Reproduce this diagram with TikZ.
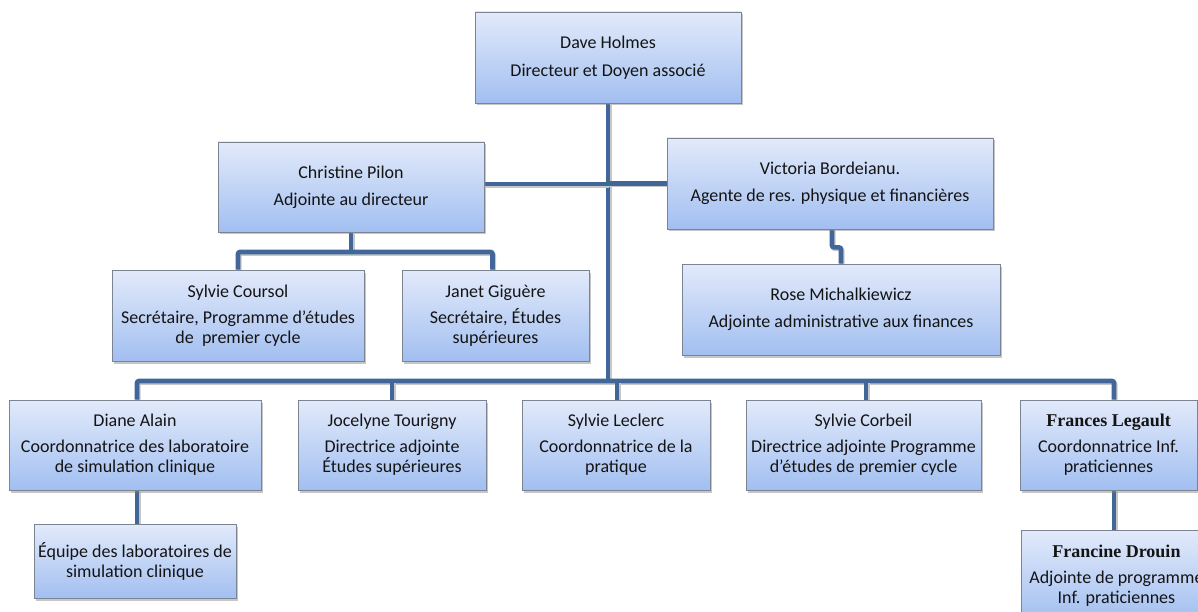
\documentclass[tikz,border=0pt]{standalone}
\usepackage{fontspec}
\setmainfont{Carlito}
\newfontfamily\namefont{Liberation Serif}
\usetikzlibrary{shadows,backgrounds}
\definecolor{linkblue}{RGB}{65,103,154}
\definecolor{boxtop}{RGB}{226,234,250}
\definecolor{boxbottom}{RGB}{162,191,241}
\definecolor{boxline}{RGB}{125,132,145}
\definecolor{inktext}{RGB}{20,20,20}
\begin{document}
\begin{tikzpicture}[x=1pt,y=-1pt,font=\fontsize{18}{20}\selectfont,text=inktext]
      \tikzstyle{box}=[draw=boxline,line width=0.8pt,top color=boxtop,bottom color=boxbottom,
        align=center,inner sep=2pt,drop shadow={shadow xshift=2pt,shadow yshift=-2.5pt,opacity=0.45}]
      \tikzstyle{link}=[linkblue,line width=4.6pt,rounded corners=2pt,
        preaction={draw=black!22,line width=4.6pt,transform canvas={shift={(1.2pt,-1.5pt)}}}]
      \useasboundingbox (0,0) rectangle (1198,612);

      \coordinate (bar) at (608,381);
      \coordinate (pbar) at (351,252);

      \node(holmes)[box,minimum width=266,minimum height=91] at (608,57.5)
          {Dave Holmes\\[8pt]Directeur et Doyen associé};
      \node(pilon)[box,minimum width=266,minimum height=90] at (351,187)
          {Christine Pilon\\[7pt]Adjointe au directeur};
      \node(bordeianu)[box,minimum width=326,minimum height=91] at (830,183.5)
          {Victoria Bordeianu.\\[7pt]Agente de res. physique et financières};
      \node(coursol)[box,minimum width=252,minimum height=91] at (238,315.5)
          {Sylvie Coursol\\[6pt]Secrétaire, Programme d'études\\de\ \ premier cycle};
      \node(giguere)[box,minimum width=187,minimum height=91] at (495.5,315.5)
          {Janet Giguère\\[6pt]Secrétaire, Études\\supérieures};
      \node(michalk)[box,minimum width=318,minimum height=91] at (841,309.5)
          {Rose Michalkiewicz\\[7pt]Adjointe administrative aux finances};
      \node(alain)[box,minimum width=252,minimum height=90] at (135,445)
          {Diane Alain\\[6pt]Coordonnatrice des laboratoire\\de simulation clinique};
      \node(tourigny)[box,minimum width=188,minimum height=90] at (392,445)
          {Jocelyne Tourigny\\[6pt]Directrice adjointe\\Études supérieures};
      \node(leclerc)[box,minimum width=188,minimum height=90] at (616,445)
          {Sylvie Leclerc\\[6pt]Coordonnatrice de la\\pratique};
      \node(corbeil)[box,minimum width=235,minimum height=90] at (863.5,445)
          {Sylvie Corbeil\\[6pt]Directrice adjointe Programme\\d'études de premier cycle};
      \node(legault)[box,minimum width=177,minimum height=90] at (1108.5,445)
          {{\namefont\bfseries Frances Legault}\\[6pt]Coordonnatrice Inf.\\praticiennes};
      \node(equipe)[box,minimum width=202,minimum height=74] at (135,561)
          {Équipe des laboratoires de\\simulation clinique};
      \node(drouin)[box,minimum width=190,minimum height=90,anchor=north west] at (1021,530)
          {{\namefont\bfseries Francine Drouin}\\[6pt]Adjointe de programme\\Inf. praticiennes};

      % connectors behind the boxes
      \begin{scope}[on background layer]
      \draw[link] (holmes.south) -- (bar);
      \draw[link] ([yshift=3pt]pilon.east) -- ([yshift=3pt]pilon.east -| holmes.south);
      \draw[link] (bordeianu.west) -- (bordeianu.west -| holmes.south);
      \draw[link] (pilon.south) -- (pbar);
      \draw[link] (coursol.north) |- (pbar) -| ([xshift=-3pt]giguere.north);
      \draw[link] ([xshift=2pt]bordeianu.south) -- ++(0,18) -| (michalk.north);
      \draw[link] ([xshift=2pt]alain.north) |- (bar) -| ([xshift=5.5pt]legault.north);
      \draw[link] (tourigny.north) -- (tourigny.north |- bar);
      \draw[link] ([xshift=1pt]leclerc.north) -- ([xshift=1pt]leclerc.north |- bar);
      \draw[link] ([xshift=2.5pt]corbeil.north) -- ([xshift=2.5pt]corbeil.north |- bar);
      \draw[link] ([xshift=2pt]alain.south) -- ([xshift=2pt]equipe.north);
      \draw[link] ([xshift=5.5pt]legault.south) -- ([xshift=5.5pt]legault.south |- drouin.north);
      \end{scope}
\end{tikzpicture}
\end{document}
